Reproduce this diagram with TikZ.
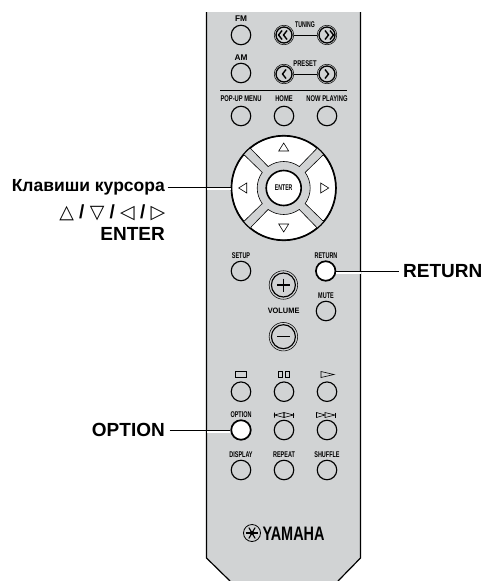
\documentclass[tikz,border=0pt]{standalone}
\usepackage{fontspec}
\usepackage{graphicx}
\setmainfont{Liberation Sans}
\newfontfamily\symfont{DejaVu Sans}
\definecolor{bodygray}{RGB}{209,211,212}
\newcommand{\tinylab}[2][.7]{\scalebox{#1}[1]{\bfseries\fontsize{8.3}{9}\selectfont #2}}
\tikzset{
  btn/.style={circle,draw=black,line width=1.15pt,minimum size=19.5pt,inner sep=0pt},
  hot/.style={btn,fill=white,line width=1.7pt},
  dblbtn/.style={circle,draw=black,line width=1.3pt,minimum size=16pt,inner sep=0pt},
  lab/.style={inner sep=0pt,text=black},
  big/.style={inner sep=0pt,text=black,font=\bfseries\fontsize{19}{21}\selectfont},
  wire/.style={draw=black,line width=1pt},
  halo/.style={draw=white,line width=1.8pt},
  seg/.style={fill=white,draw=black,line width=.6pt,rounded corners=1.2pt},
  glyph/.style={draw=black,line width=.6pt,fill=none,line join=miter},
  outerring/.style={circle,draw=black,line width=.55pt,inner sep=0pt}
}
\begin{document}
\begin{tikzpicture}[x=1pt,y=-1pt]
\useasboundingbox (0,0) rectangle (485,581);
% body
\fill[bodygray] (206.5,12) -- (360.5,12) -- (360.5,558) -- (338,581) -- (230,581) -- (206.5,558) -- cycle;
\draw[black,line width=1.2pt] (206.5,12) -- (206.5,558) -- (230,581);
\draw[black,line width=1.2pt] (360.5,12) -- (360.5,558) -- (338,581);
\draw[black,line width=.7pt] (220,90) -- (347,90);

% top buttons
\node[btn] (fm) at (241,35) {};
\node[btn] (am) at (241,73) {};
\node[btn] (popup) at (241,116) {};
\node[btn] (home) at (284,116) {};
\node[btn] (now) at (327,116) {};
\node[lab] (fmlab) at (241,19) {\tinylab[1]{FM}};
\node[lab] (amlab) at (241,57.5) {\tinylab[1]{AM}};
\node[lab] (popuplab) at (241,98.5) {\tinylab{POP-UP MENU}};
\node[lab] (homelab) at (284,98.5) {\tinylab{HOME}};
\node[lab] (nowlab) at (327,98.5) {\tinylab{NOW PLAYING}};
\node[lab] (tuninglab) at (305,25) {\tinylab[.62]{TUNING}};
\node[lab] (presetlab) at (305,64) {\tinylab[.7]{PRESET}};

% tuning / preset
\node[dblbtn] (tl) at (284,35) {};
\node[dblbtn] (tr) at (327,35) {};
\node[dblbtn] (pl) at (284,74) {};
\node[dblbtn] (pr) at (327,74) {};
\foreach \n/\p in {tlo/tl,tro/tr,plo/pl,pro/pr}
  \node[outerring,minimum size=19.5pt] (\n) at (\p) {};
\draw[black,line width=.7pt] (tlo) -- (tro);
\draw[black,line width=.7pt] (plo) -- (pro);
\begin{scope}[line width=1.4pt,draw=black]
  \draw (282,30.5) -- (278.5,35) -- (282,39.5); \draw (287,30.5) -- (283.5,35) -- (287,39.5);
  \draw (325,30.5) -- (328.5,35) -- (325,39.5); \draw (330,30.5) -- (333.5,35) -- (330,39.5);
  \draw (286,69.5) -- (282.5,74) -- (286,78.5);
  \draw (325,69.5) -- (328.5,74) -- (325,78.5);
\end{scope}

% d-pad
\node[circle,draw=black,line width=1.2pt,fill=bodygray,minimum size=105pt,inner sep=0pt] (pad) at (283.7,188) {};
\begin{scope}[shift={(283.7,188)}]
  \foreach \r in {0,90,180,270}{
    \begin{scope}[rotate=\r]
      \path[seg] (50:52) arc[start angle=50,end angle=130,radius=52] [sharp corners]
        -- (126:26.5) arc[start angle=126,end angle=54,radius=26.5] -- cycle;
      \draw[black,line width=1.2pt] (50:52) arc[start angle=50,end angle=130,radius=52];
    \end{scope}
  }
  \draw[glyph] (-5,-37) -- (5,-37) -- (0,-45) -- cycle;
  \draw[glyph] (-5,36) -- (5,36) -- (0,44) -- cycle;
  \draw[glyph] (-37,-5) -- (-37,5) -- (-45,0) -- cycle;
  \draw[glyph] (37,-5) -- (37,5) -- (45,0) -- cycle;
\end{scope}
\node[circle,draw=black,line width=1.6pt,fill=white,minimum size=35pt,inner sep=0pt] (enter) at (283.7,188) {\tinylab[.62]{ENTER}};

% middle
\node[btn] (setup) at (241,271) {};
\node[hot] (return) at (325.7,271) {};
\node[btn] (mute) at (326,311) {};
\node[lab] (setuplab) at (241,255.7) {\tinylab[.66]{SETUP}};
\node[lab] (returnlab) at (326,256) {\tinylab[.66]{RETURN}};
\node[lab] (mutelab) at (326,296) {\tinylab[.66]{MUTE}};
\node[lab] (vollab) at (283.6,311) {\scalebox{.95}[1]{\bfseries\fontsize{7.8}{8}\selectfont VOLUME}};
\node[circle,draw=black,line width=1.15pt,minimum size=24pt,inner sep=0pt] (volup) at (283.4,285) {};
\node[outerring,minimum size=28.5pt] (volupo) at (283.4,285) {};
\node[circle,draw=black,line width=1.15pt,minimum size=24pt,inner sep=0pt] (voldn) at (283.4,336.7) {};
\node[outerring,minimum size=28.5pt] (voldno) at (283.4,336.7) {};
\draw[black,line width=1.2pt] (277,285) -- (290,285) (283.5,278.5) -- (283.5,291.5);
\draw[black,line width=1.2pt] (277,336.7) -- (290,336.7);

% transport
\node[btn] (stop) at (241,391.7) {};
\node[btn] (pause) at (284,391.7) {};
\node[btn] (play) at (327,391.7) {};
\node[hot] (option) at (241,430) {};
\node[btn] (prev) at (284,430) {};
\node[btn] (next) at (327,430) {};
\node[btn] (display) at (241,470) {};
\node[btn] (repeat) at (284,470) {};
\node[btn] (shuffle) at (327,470) {};
\node[lab] (optionlab) at (241,415) {\tinylab[.66]{OPTION}};
\node[lab] (displaylab) at (241,454.3) {\tinylab[.66]{DISPLAY}};
\node[lab] (repeatlab) at (284,454.3) {\tinylab[.66]{REPEAT}};
\node[lab] (shufflelab) at (327,454.3) {\tinylab[.66]{SHUFFLE}};
\draw[glyph] (235.5,371.5) rectangle (246.5,377.5);
\draw[glyph] (278,371.5) rectangle (282.5,377.5) (285,371.5) rectangle (289.5,377.5);
\draw[glyph] (321,371.5) -- (321,377.5) -- (334,374.5) -- cycle;
\draw[glyph] (274.5,412.5) -- (274.5,417.5) (274.5,415) -- (284,412.5) -- (284,417.5) -- cycle;
\draw[glyph] (284,412.5) -- (284,417.5) -- (293.5,415) -- cycle;
\draw[glyph] (293.5,412.5) -- (293.5,417.5);
\draw[glyph] (316.5,412.5) -- (316.5,417.5) -- (325,415) -- cycle;
\draw[glyph] (325,412.5) -- (325,417.5) -- (335,415) -- cycle;
\draw[glyph] (335,412.5) -- (335,417.5);

% logo
\node[lab] (yamaha) at (293.5,533.5) {\scalebox{.74}[1]{\bfseries\fontsize{19.5}{20}\selectfont YAMAHA}};
\node[outerring,line width=.8pt,minimum size=17pt] (logo) at (252,533) {};
\begin{scope}[shift={(252,533)}]
  \foreach \a in {0,60,120}
    \draw[black,line width=1.1pt] (\a:-6.3) -- (\a:6.3);
  \fill[black] (0,0) circle (2.2);
\end{scope}

% callouts
\node[big,anchor=east,font=\bfseries\fontsize{17.5}{21}\selectfont] (padlab) at (165,187.5) {Клавиши курсора};
\node[big,anchor=east] (arrowlab) at (165.5,213) {{\symfont\mdseries △} / {\symfont\mdseries ▽} / {\symfont\mdseries ◁} / {\symfont\mdseries ▷}};
\node[big,anchor=east] (enterlab) at (165,234) {ENTER};
\node[big,anchor=east] (optlab) at (165,430) {OPTION};
\node[big,anchor=west] (retlab) at (403,271) {RETURN};
\draw[halo] ([yshift=-1.6pt]padlab.east -| 207,0) -- ([yshift=-1.6pt]padlab.east -| pad.west);
\draw[wire] ([xshift=2.5pt]padlab.east) -- (padlab.east -| pad.west);
\draw[halo] ([yshift=-1.6pt]optlab.east -| 207,0) -- ([yshift=-1.6pt]option.west);
\draw[wire] ([xshift=4.5pt]optlab.east) -- (option.west);
\draw[halo] ([yshift=-1.6pt]return.east) -- ([yshift=-1.6pt]retlab.west -| 360.5,0);
\draw[wire] (return.east) -- ([xshift=-4pt]retlab.west);
\end{tikzpicture}
\end{document}
